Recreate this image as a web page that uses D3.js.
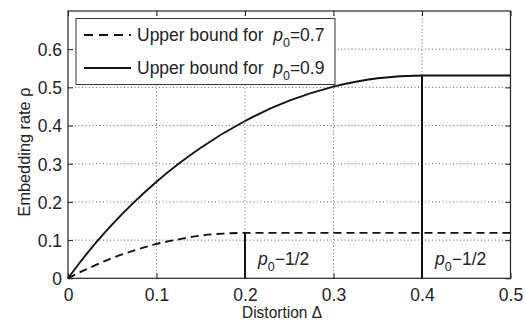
<!DOCTYPE html>
<html>
<head>
<meta charset="utf-8">
<script src="https://cdn.jsdelivr.net/npm/d3@7"></script>
<style>
  body { margin: 0; background: #fff; }
  svg { display: block; font-family: Arial, "Liberation Sans", Helvetica, sans-serif; }
</style>
</head>
<body>
<svg id="chart"></svg>
<script>
// values
const delta09 = [0, 0.01, 0.025, 0.05, 0.075, 0.1, 0.15, 0.2, 0.25, 0.3, 0.35, 0.4, 0.5]
const rate09  = [0, 0.031, 0.075, 0.141, 0.200, 0.253, 0.342, 0.412, 0.465, 0.502, 0.524, 0.531, 0.531]
const delta07 = [0, 0.01, 0.025, 0.05, 0.075, 0.1, 0.125, 0.15, 0.175, 0.2, 0.5]
const rate07  = [0, 0.012, 0.028, 0.053, 0.073, 0.090, 0.102, 0.112, 0.117, 0.119, 0.119]

const markerX = [0.2, 0.4]
const markerTop = [0.119, 0.531]

const xTicks = [0, 0.1, 0.2, 0.3, 0.4, 0.5]
const yTicks = [0, 0.1, 0.2, 0.3, 0.4, 0.5, 0.6]
const legendP0 = ['0.7', '0.9']

const width = 526, height = 323
const margin = {left: 68, right: 15.5, top: 11, bottom: 44.7}

const svg = d3.select('#chart').attr('width', width).attr('height', height)

const x = d3.scaleLinear().domain([0, 0.5]).range([margin.left, width - margin.right])
const y = d3.scaleLinear().domain([0, 0.7]).range([height - margin.bottom, margin.top])

const x0 = x.range()[0], x1 = x.range()[1]
const y0 = y.range()[0], y1 = y.range()[1]

// grid
const grid = svg.append('g')
  .attr('stroke', '#666')
  .attr('stroke-width', 1)
  .attr('stroke-dasharray', '1,2.5')

grid.selectAll('line.gx')
  .data(xTicks.filter(d => d > 0 && d < 0.5))
  .enter().append('line')
  .attr('x1', d => x(d)).attr('x2', d => x(d))
  .attr('y1', y0).attr('y2', y1)

grid.selectAll('line.gy')
  .data(yTicks.filter(d => d > 0))
  .enter().append('line')
  .attr('y1', d => y(d)).attr('y2', d => y(d))
  .attr('x1', x0).attr('x2', x1)

// axes (matlab style: ticks inside, on all sides)
const axisBottom = d3.axisBottom(x).tickValues(xTicks).tickSize(-5).tickPadding(10).tickFormat(d3.format('~g'))
const axisLeft = d3.axisLeft(y).tickValues(yTicks).tickSize(-5).tickPadding(6).tickFormat(d3.format('~g'))
const axisTop = d3.axisTop(x).tickValues(xTicks).tickSize(-5).tickFormat('')
const axisRight = d3.axisRight(y).tickValues(yTicks).tickSize(-5).tickFormat('')

function styleAxis(g) {
  g.select('.domain').remove()
  g.selectAll('.tick line').attr('stroke', '#222')
  g.selectAll('text')
    .attr('fill', '#222')
    .style('font-size', '17.5px')
    .style('font-family', 'Arial, "Liberation Sans", sans-serif')
}

svg.append('g').attr('transform', `translate(0,${y0})`).call(axisBottom).call(styleAxis)
svg.append('g').attr('transform', `translate(${x0},0)`).call(axisLeft).call(styleAxis)
  .selectAll('text').attr('dy', '0.36em')
svg.append('g').attr('transform', `translate(0,${y1})`).call(axisTop).call(styleAxis)
svg.append('g').attr('transform', `translate(${x1},0)`).call(axisRight).call(styleAxis)

// curves
const line = d3.line().curve(d3.curveMonotoneX)

svg.append('path')
  .datum(delta07.map((d, i) => [x(d), y(rate07[i])]))
  .attr('d', line)
  .attr('fill', 'none')
  .attr('stroke', '#111')
  .attr('stroke-width', 1.9)
  .attr('stroke-dasharray', '8,5')

svg.append('path')
  .datum(delta09.map((d, i) => [x(d), y(rate09[i])]))
  .attr('d', line)
  .attr('fill', 'none')
  .attr('stroke', '#111')
  .attr('stroke-width', 1.9)

// markers at p0 - 1/2
svg.selectAll('line.marker')
  .data(markerX)
  .enter().append('line')
  .attr('x1', d => x(d)).attr('x2', d => x(d))
  .attr('y1', y0).attr('y2', (d, i) => y(markerTop[i]))
  .attr('stroke', '#111')
  .attr('stroke-width', 2)

const markerLabels = svg.selectAll('text.marker')
  .data(markerX)
  .enter().append('text')
  .attr('x', d => x(d) + 13)
  .attr('y', y0 - 13.5)
  .attr('fill', '#222')
  .style('font-size', '17.5px')

markerLabels.append('tspan').style('font-style', 'italic').text('p')
markerLabels.append('tspan').attr('dy', 6).style('font-size', '12.5px').text('0')
markerLabels.append('tspan').attr('dy', -6).text('\u22121/2')

// frame
svg.append('rect')
  .attr('x', x0).attr('y', y1)
  .attr('width', x1 - x0).attr('height', y0 - y1)
  .attr('fill', 'none')
  .attr('stroke', '#222')
  .attr('stroke-width', 1.2)

// legend
const legend = svg.append('g')
legend.append('rect')
  .attr('x', 76).attr('y', 18.5)
  .attr('width', 259).attr('height', 66)
  .attr('fill', '#fff')
  .attr('stroke', '#333')
  .attr('stroke-width', 1)

const legendRows = legend.selectAll('g.row')
  .data(legendP0)
  .enter().append('g')
  .attr('transform', (d, i) => `translate(0,${35 + i * 33})`)

legendRows.append('line')
  .attr('x1', 84).attr('x2', 131)
  .attr('stroke', '#111')
  .attr('stroke-width', 1.9)
  .attr('stroke-dasharray', (d, i) => i === 0 ? '9,6' : null)

const legendText = legendRows.append('text')
  .attr('x', 137).attr('y', 6)
  .attr('fill', '#222')
  .style('font-size', '17.5px')

legendText.append('tspan').text('Upper bound for\u00a0\u00a0')
legendText.append('tspan').style('font-style', 'italic').text('p')
legendText.append('tspan').attr('dy', 6).style('font-size', '12.5px').text('0')
legendText.append('tspan').attr('dy', -6).text(d => '=' + d)

// axis titles
svg.append('text')
  .attr('x', 282).attr('y', 318)
  .attr('text-anchor', 'middle')
  .attr('fill', '#222')
  .attr('textLength', 80)
  .attr('lengthAdjust', 'spacingAndGlyphs')
  .style('font-size', '17px')
  .text('Distortion \u0394')

svg.append('text')
  .attr('transform', `translate(30,152) rotate(-90)`)
  .attr('text-anchor', 'middle')
  .attr('fill', '#222')
  .attr('textLength', 129)
  .attr('lengthAdjust', 'spacingAndGlyphs')
  .style('font-size', '17px')
  .text('Embedding rate \u03c1')
</script>
</body>
</html>
